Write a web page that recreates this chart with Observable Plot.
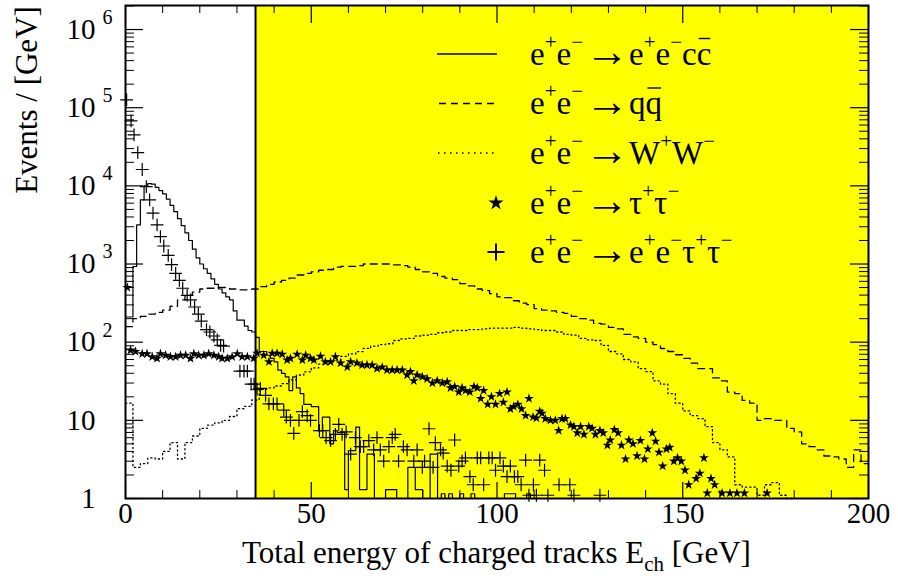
<!DOCTYPE html>
<html><head><meta charset="utf-8">
<script src="https://cdn.jsdelivr.net/npm/d3@7"></script>
<script src="https://cdn.jsdelivr.net/npm/@observablehq/plot@0.6"></script>
<style>body{margin:0;background:#fff}svg{display:block}</style>
</head><body><div id="chart"></div>
<script>
const FONT = "'Liberation Serif','Times New Roman',serif";

// e+e- -> e+e-cc (solid histogram), 1 GeV bins starting at 0
const solidBinWidth = 1;
const solidCounts = [210,210,930,3160,6600,10000,10700,10500,9550,8700,7900,6760,5620,4680,3800,3090,2510,2000,1550,1200,
  1000,870,760,646,550,479,427,380,347,251,191,191,160,141,135,
  115,76,76,68,62,56,44,40,36,24,36,26,22,16,16,15,15,7.4,11,11,5,7.4,7,7,1.3,
  4.1,4.1,8.2,1.3,1.3,3.7,3.7,1,1,1,1.3,1.3,1.3,1,1,1,2.5,2.5,1.3,1.3,
  1,1,3.7,3.7,1,1.15,1,1.15,1,1,1.15,1,1,1.15,1,1,1,1,1,1,
  1,1,1.15,1.15,1.15,1,1,1,1.15,1,1,1,1,1,1,1,1,1,1,1];

// e+e- -> qq (dashed histogram), 2 GeV bins starting at 0
const dashedBinWidth = 2;
const dashedCounts = [158,200,214,229,240,257,288,347,398,437,479,490,501,501,479,468,468,479,513,550,
  589,617,661,724,759,794,832,851,912,933,933,955,1000,1000,1000,1000,977,955,912,851,
  794,759,692,661,631,562,525,479,457,417,380,372,339,316,302,269,257,251,240,234,
  214,200,191,174,170,155,148,126,117,112,100,93,83,76,69,62,54,46,46,35,
  32,23,22,18,16.6,10,10.5,10,10,7.9,7.1,5,4.6,4.2,3.5,3.4,3.2,2.5,4.2,2.8];

// e+e- -> W+W- (dotted histogram), 2 GeV bins starting at 0
const dottedBinWidth = 2;
const dottedCounts = [16.6,2.5,2.8,3.3,3.2,4.0,5.2,3.2,5.2,6.3,7.9,8.7,9.3,10,11.2,14.1,15.1,18.2,25,26,
  27.5,29.5,33,38,41.7,46.8,52.5,55,58.9,66,70.8,75.9,83.2,89,93.3,95.5,105,110,112,120,
  123,126,132,135,141,141,145,145,148,151,151,151,155,151,148,145,141,141,135,126,
  123,112,107,105,91,76,71,60,56,46,42,32,29,22,16.6,13.2,11.5,10.5,8.3,5.2,
  4.2,3.4,1.5,1.4,1.4,1.1,1.5,1.6,1.1,1];

// e+e- -> tau+tau- (stars): energy [GeV] and events
const starE = [0.5,1.35,2.7,4.5,5.8,7.2,8.5,9.4,10.8,12.1,13.5,14.8,16.2,17.5,18.4,19.7,21.1,22.4,23.8,25.1,26.0,27.4,28.7,30.1,31.4,32.8,34.5,
  35.4,37.2,38.6,39.5,40.8,42.2,43.5,44.4,46.2,47.6,48.5,49.8,50.7,52.5,53.8,55.2,56.5,57.9,59.7,60.6,62.3,63.7,65.0,66.4,67.7,69.1,70.4,71.8,73.1,74.5,75.8,76.7,77.6,78.5,79.9,81.2,82.6,83.9,85.3,86.6,
  87.5,88.6,89.7,90.6,91.5,92.7,93.8,94.7,95.6,96.4,97.5,98.5,99.6,100.7,101.7,102.7,103.6,104.5,105.6,106.6,107.7,108.6,109.7,110.6,111.5,
  112.1,113.0,114.4,115.7,116.6,117.5,118.4,119.8,120.7,121.6,122.5,123.4,124.7,125.6,126.5,127.7,128.6,129.7,130.5,131.6,132.6,133.5,134.6,135.5,136.6,137.7,138.6,139.7,140.6,141.8,142.7,143.6,144.6,145.6,146.5,147.6,148.6,149.6,150.6,151.6,153.6,154.6,155.7,156.6,157.6,158.6,160.6,162.7,164.6,166.6,172.7];
const starN = [500,79,76,71,71,65,62,71,68,65,65,68,68,62,71,68,68,71,68,65,62,62,65,71,65,65,62,
  72,68,56,72,72,70,59,62,70,59,68,62,59,66,56,56,65,54,48,56,54,51,51,51,46,48,44,44,44,44,38,42,32,38,36,34,30,32,30,31,
  26,27,23,26,24,23,27,26,19,24,16,20,16,22,17,23,14,15,16,14,11.5,19,11,10.7,13,
  12.3,10.5,10,10,7.4,10.5,10.5,8.7,8.3,6.9,8.3,6.6,8.3,7.9,6.6,7.4,6.9,4.8,5.6,7.6,6.9,4.8,3.2,5.6,5.0,3.5,5.5,3.2,4.3,6.9,5.4,3.9,2.6,4.3,4.5,3.0,3.3,3.0,2.3,1.5,1.8,2.1,3.3,1.17,1.8,1.5,1.17,1.17,1.17,1.17,1.17];

// e+e- -> e+e-tau+tau- (crosses): energy [GeV] and events
const plusE = [0.3,1.5,2.3,3.3,4.5,5.6,6.5,7.4,8.5,9.4,10.3,11.5,12.4,13.5,14.5,15.4,16.6,17.5,18.6,19.6,20.4,21.8,22.7,23.8,24.7,25.6,26.4,
  30.8,31.9,32.8,33.8,34.6,35.4,36.3,37.7,38.6,39.8,40.8,42.6,43.3,44.4,45.3,46.7,47.6,48.9,49.8,52.2,53.1,54.0,55.2,56.5,57.4,58.3,59.4,60.6,61.9,63.2,64.1,65.5,66.8,67.7,68.6,69.5,70.9,71.8,72.6,73.5,74.8,75.8,77.6,78.5,79.9,80.5,81.7,82.8,83.4,84.8,
  85.5,86.6,87.6,88.6,89.7,90.6,91.5,92.7,93.6,94.7,95.6,96.4,97.8,98.7,99.6,100.8,101.7,102.7,103.6,104.7,105.6,106.5,107.7,108.6,109.8,110.6,111.5,112.8,113.7,116.7,119.6,120.7,127.7];
const plusN = [125900,68000,45000,26600,16200,9800,6600,4470,3160,2240,1700,1290,980,760,617,490,398,347,282,229,186,145,135,120,107,91,89,
  42.7,42.7,42.7,29,29,25,25.7,20.9,16.2,16.2,16.2,13.5,11,10,6.8,10,12.9,11.5,10,7.4,7.4,6.0,5.5,6.6,8.9,6.6,7.1,3.7,6.0,4.6,4.6,5.5,4.2,6.0,4.2,3.0,4.6,6.0,6.6,3.0,4.6,4.2,3.0,4.2,2.5,3.0,7.8,2.5,5.2,4.2,
  3.8,2.6,2.3,5.6,2.6,3.0,3.3,1.9,1.5,3.3,3.3,1.5,3.3,3.3,2.3,3.3,2.6,1.9,2.6,1.9,1.9,1.5,3.1,1.1,1.5,1.1,3.1,2.3,1.1,1.5,1.5,1.1,1.1];

// axis ticks and labels
const xMajor = [0, 50, 100, 150, 200];
const xMinor = [10,20,30,40,60,70,80,90,110,120,130,140,160,170,180,190];
const xTickLabels = ["0", "50", "100", "150", "200"];
const yMajor = [1, 10, 100, 1e3, 1e4, 1e5, 1e6];
const yBaseLabels = ["1", "10", "10", "10", "10", "10", "10"];
const yExpLabels = ["", "", "2", "3", "4", "5", "6"];
const yMinor = [];
for (const d of yMajor) for (let m = 2; m <= 9; m++) if (m * d <= 2.0e6) yMinor.push(m * d);

const cutE = 35;
const legendRows = [
  {lhs: [["e"],["+","sup"],["e"],["\u2212","sup"]], rhs: [["e"],["+","sup"],["e"],["\u2212","sup"],["c"],["c","bar"]], key: "solid"},
  {lhs: [["e"],["+","sup"],["e"],["\u2212","sup"]], rhs: [["q"],["q","bar"]], key: "dashed"},
  {lhs: [["e"],["+","sup"],["e"],["\u2212","sup"]], rhs: [["W"],["+","sup"],["W"],["\u2212","sup"]], key: "dotted"},
  {lhs: [["e"],["+","sup"],["e"],["\u2212","sup"]], rhs: [["\u03c4"],["+","sup"],["\u03c4"],["\u2212","sup"]], key: "star"},
  {lhs: [["e"],["+","sup"],["e"],["\u2212","sup"]], rhs: [["e"],["+","sup"],["e"],["\u2212","sup"],["\u03c4"],["+","sup"],["\u03c4"],["\u2212","sup"]], key: "plus"}
];

function histPoints(counts, w) {
  const pts = counts.map((c, i) => ({x: i * w, y: c}));
  pts.push({x: counts.length * w, y: counts[counts.length - 1]});
  return pts;
}
const solidPts = histPoints(solidCounts, solidBinWidth);
const dashedPts = histPoints(dashedCounts, dashedBinWidth);
const dottedPts = histPoints(dottedCounts, dottedBinWidth);
const stars = starE.map((e, i) => ({e, n: starN[i]}));
const pluses = plusE.map((e, i) => ({e, n: plusN[i]}));

const W = 898, H = 583, mL = 125, mR = 30, mT = 5, mB = 85;
const fw = W - mL - mR, fh = H - mT - mB;

const plot = Plot.plot({
  width: W, height: H,
  marginLeft: mL, marginRight: mR, marginTop: mT, marginBottom: mB,
  x: {domain: [0, 200], axis: null},
  y: {type: "log", domain: [1, 2.03e6], axis: null},
  style: {fontFamily: FONT, background: "white", color: "black"},
  marks: [
    Plot.rect([{x1: cutE, x2: 200}], {x1: "x1", x2: "x2", fill: "#ffff00"}),
    Plot.line(dottedPts, {x: "x", y: "y", curve: "step-after", stroke: "black", strokeWidth: 1.3, strokeDasharray: "1.3,3"}),
    Plot.line(dashedPts, {x: "x", y: "y", curve: "step-after", stroke: "black", strokeWidth: 1.3, strokeDasharray: "7,5"}),
    Plot.line(solidPts, {x: "x", y: "y", curve: "step-after", stroke: "black", strokeWidth: 1.2}),
    Plot.dot(stars, {x: "e", y: "n", symbol: "star", r: 3.1, fill: "black", stroke: "none"}),
    Plot.dot(pluses, {x: "e", y: "n", symbol: "plus", r: 4.2, stroke: "black", strokeWidth: 1.2}),
    Plot.ruleX([cutE], {stroke: "black", strokeWidth: 2}),
    // inward tick marks
    Plot.tickX(xMinor, {x: d => d, insetTop: fh - 8, stroke: "black", strokeWidth: 1}),
    Plot.tickX(xMinor, {x: d => d, insetBottom: fh - 8, stroke: "black", strokeWidth: 1}),
    Plot.tickX(xMajor, {x: d => d, insetTop: fh - 16, stroke: "black", strokeWidth: 1.2}),
    Plot.tickX(xMajor, {x: d => d, insetBottom: fh - 18, stroke: "black", strokeWidth: 1.2}),
    Plot.tickY(yMinor, {y: d => d, insetRight: fw - 9, stroke: "black", strokeWidth: 1}),
    Plot.tickY(yMinor, {y: d => d, insetLeft: fw - 9, stroke: "black", strokeWidth: 1}),
    Plot.tickY(yMajor, {y: d => d, insetRight: fw - 18, stroke: "black", strokeWidth: 1.2}),
    Plot.tickY(yMajor, {y: d => d, insetLeft: fw - 18, stroke: "black", strokeWidth: 1.2}),
    Plot.frame({stroke: "black", strokeWidth: 2}),
    // tick labels
    Plot.text(xMajor, {x: d => d, text: (d, i) => xTickLabels[i], frameAnchor: "bottom", dy: 24, fontSize: 29, fill: "black"}),
    Plot.text(yMajor, {y: d => d, text: (d, i) => yBaseLabels[i], frameAnchor: "left", textAnchor: "end", dx: -30, fontSize: 29, fill: "black"}),
    Plot.text(yMajor, {y: d => d, text: (d, i) => yExpLabels[i], frameAnchor: "left", textAnchor: "start", dx: -23, dy: -12, fontSize: 20, fill: "black"})
  ]
});
document.getElementById("chart").appendChild(plot);

const svg = d3.select(plot);

function rich(x, y, parts, size, supSize, supRaise, anchor) {
  const t = svg.append("text").attr("x", x).attr("y", y).attr("text-anchor", anchor || "start")
    .attr("font-family", FONT).attr("font-size", size).attr("fill", "black");
  let shift = 0, idx = 0; const bars = [];
  for (const [s, kind] of parts) {
    const sp = t.append("tspan").text(s);
    if (kind === "sup") {
      sp.attr("font-size", supSize).attr("dy", -supRaise - shift); shift = -supRaise;
    } else if (kind === "sub") {
      sp.attr("font-size", supSize).attr("dy", supRaise - shift); shift = supRaise;
    } else {
      if (shift) sp.attr("dy", -shift); shift = 0;
    }
    if (kind === "bar") bars.push([idx, s.length]);
    idx += s.length;
  }
  for (const [i, n] of bars) {
    const a = t.node().getExtentOfChar(i), b = t.node().getExtentOfChar(i + n - 1);
    svg.append("line").attr("x1", a.x + 2).attr("x2", b.x + b.width - 1)
      .attr("y1", a.y + 3).attr("y2", a.y + 3).attr("stroke", "black").attr("stroke-width", 1.4);
  }
  return t;
}

// legend
const rowY = [54, 103.5, 153, 203, 252];
legendRows.forEach((row, i) => {
  const cy = rowY[i];
  if (row.key === "solid") svg.append("line").attr("x1", 437).attr("x2", 497).attr("y1", cy).attr("y2", cy).attr("stroke", "black").attr("stroke-width", 1.5);
  if (row.key === "dashed") svg.append("line").attr("x1", 439).attr("x2", 497).attr("y1", cy).attr("y2", cy).attr("stroke", "black").attr("stroke-width", 1.5).attr("stroke-dasharray", "7,5");
  if (row.key === "dotted") svg.append("line").attr("x1", 438).attr("x2", 497).attr("y1", cy).attr("y2", cy).attr("stroke", "black").attr("stroke-width", 1.5).attr("stroke-dasharray", "1.5,4.5");
  if (row.key === "star") svg.append("path").attr("d", d3.symbol(d3.symbolStar, 70)()).attr("transform", `translate(496,${cy})`).attr("fill", "black");
  if (row.key === "plus") svg.append("path").attr("d", "M-8.5,0H8.5M0,-8.5V8.5").attr("transform", `translate(496,${cy})`).attr("stroke", "black").attr("stroke-width", 2);
  rich(530, cy + 10.5, row.lhs, 33, 21, 16, "start");
  svg.append("text").attr("x", 585).attr("y", cy + 12).attr("text-anchor", "start")
    .attr("font-family", FONT).attr("font-size", 44).attr("fill", "black").text("\u2192");
  rich(629, cy + 10.5, row.rhs, 33, 21, 16, "start");
});

// axis titles
rich((mL + W - mR) / 2, 563, [["Total energy of charged tracks E"], ["ch", "sub"], [" [GeV]"]], 31, 21, 8, "middle");
svg.append("text").attr("transform", "translate(37,100) rotate(-90)").attr("text-anchor", "middle")
  .attr("font-family", FONT).attr("font-size", 31).attr("fill", "black").text("Events / [GeV]");
</script>
</body></html>
